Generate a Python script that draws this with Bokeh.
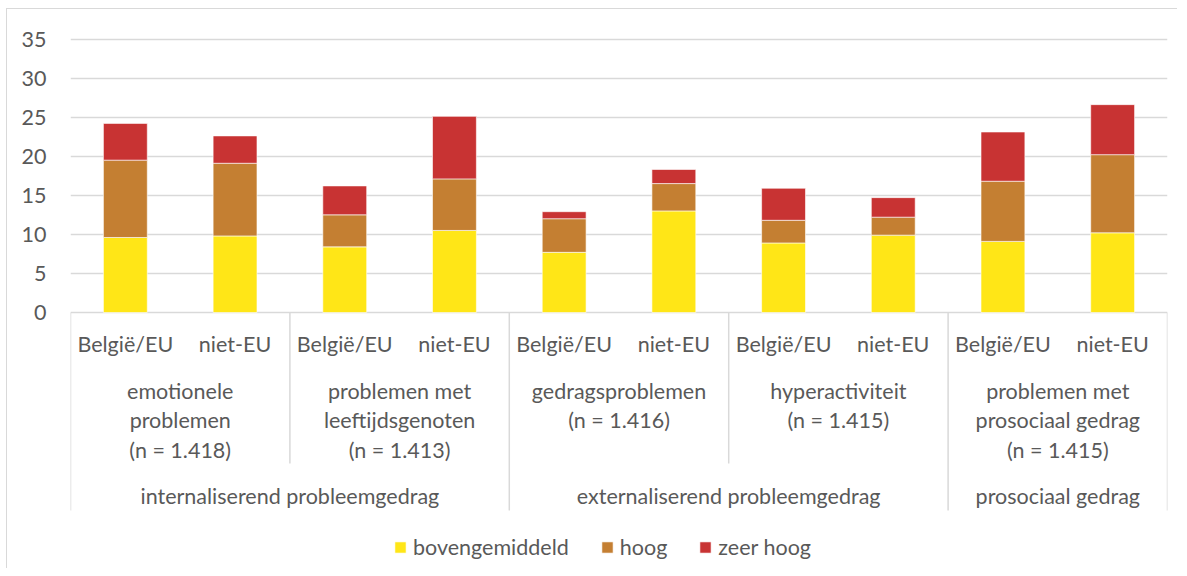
from bokeh.plotting import figure
from bokeh.models import Range1d, FixedTicker, Legend, LegendItem, ColumnDataSource
from bokeh.core.properties import value
from bokeh.embed import file_html
from bokeh.resources import INLINE

# ---------------- data ----------------
origins = ["België/EU", "niet-EU"]
scales = [
    ["emotionele", "problemen", "(n = 1.418)"],
    ["problemen met", "leeftijdsgenoten", "(n = 1.413)"],
    ["gedragsproblemen", "(n = 1.416)"],
    ["hyperactiviteit", "(n = 1.415)"],
    ["problemen met", "prosociaal gedrag", "(n = 1.415)"],
]
domains = ["internaliserend probleemgedrag", "externaliserend probleemgedrag", "prosociaal gedrag"]
scales_per_domain = [2, 2, 1]
series = ["bovengemiddeld", "hoog", "zeer hoog"]
bovengemiddeld = [9.6, 9.8, 8.4, 10.5, 7.7, 13.0, 8.9, 9.9, 9.1, 10.2]
hoog = [9.9, 9.3, 4.1, 6.6, 4.3, 3.5, 2.9, 2.3, 7.7, 10.0]
zeer_hoog = [4.7, 3.5, 3.7, 8.0, 0.9, 1.8, 4.1, 2.5, 6.3, 6.4]
y_ticks = [0, 5, 10, 15, 20, 25, 30, 35]

# ---------------- styling / layout constants ----------------
colors = ["#FFE617", "#C47F32", "#C83333"]
FONT = value("Lato")
FS = "21.5px"
TXT = "#595959"
GRID = "#d9d9d9"
W, H = 1171, 560
TOP = 9                              # page y of figure content top
Y0_PX, PX_PER_UNIT = 312.0 - TOP, 7.814


def data_y(page_y):
    return (Y0_PX - (page_y - TOP)) / PX_PER_UNIT


n_cats = len(bovengemiddeld)
x_centers = [i + 0.5 for i in range(n_cats)]

src = ColumnDataSource(dict(x=x_centers, bovengemiddeld=bovengemiddeld, hoog=hoog, zeer_hoog=zeer_hoog))

p = figure(width=W, height=H, output_backend="svg", toolbar_location=None,
           x_range=Range1d(0, n_cats), y_range=Range1d(data_y(TOP + H), data_y(TOP)),
           x_axis_location=None,
           min_border_left=63, min_border_right=11, min_border_top=0, min_border_bottom=0)
p.styles = {"border-left": "1px solid #d9d9d9", "border-top": "1px solid #d9d9d9",
            "margin-left": "6px", "margin-top": "8px"}
p.outline_line_color = None
p.background_fill_color = "white"
p.border_fill_color = "white"
p.xgrid.visible = False
p.ygrid.ticker = FixedTicker(ticks=y_ticks)
p.ygrid.grid_line_color = GRID
p.ygrid.grid_line_width = 1.5

ax = p.yaxis[0]
ax.ticker = FixedTicker(ticks=y_ticks)
ax.axis_line_color = None
ax.major_tick_line_color = None
ax.minor_tick_line_color = None
ax.major_label_text_font = "Lato"
ax.major_label_text_font_size = FS
ax.major_label_text_color = TXT
ax.major_label_standoff = 18

rs = p.vbar_stack(["bovengemiddeld", "hoog", "zeer_hoog"], x="x", width=0.4, source=src,
                  color=colors, line_color="white", line_width=0.6)

# separators below the category axis
sep_x, sep_y1 = [], []
inner_bottom, outer_bottom = data_y(463), data_y(510)
pos = 0
domain_edges = [0]
for cnt in scales_per_domain:
    pos += cnt * len(origins)
    domain_edges.append(pos)
for j in range(len(scales) + 1):
    xb = j * len(origins)
    sep_x.append(xb)
    sep_y1.append(outer_bottom if xb in domain_edges else inner_bottom)
p.segment(x0=sep_x, y0=[0] * len(sep_x), x1=sep_x, y1=sep_y1, line_color=GRID, line_width=1.5)

# level 1 labels
lx, ly, lt = [], [], []
for i in range(n_cats):
    lx.append(x_centers[i])
    ly.append(data_y(343))
    lt.append(origins[i % len(origins)])
# level 2 labels
line_px = [390, 419.5, 449]
for j, lines in enumerate(scales):
    xc = j * len(origins) + len(origins) / 2
    for k, ln in enumerate(lines):
        lx.append(xc)
        ly.append(data_y(line_px[k]))
        lt.append(ln)
# level 3 labels
start = 0
for d, cnt in zip(domains, scales_per_domain):
    span = cnt * len(origins)
    lx.append(start + span / 2)
    ly.append(data_y(495))
    lt.append(d)
    start += span

p.text(x=lx, y=ly, text=lt, text_font=FONT, text_font_size=value(FS), text_color=TXT,
       text_align="center", text_baseline="middle")

legend = Legend(items=[LegendItem(label=s, renderers=[r]) for s, r in zip(series, rs)],
                orientation="horizontal", location=(323, 9),
                glyph_width=14, glyph_height=14, label_standoff=6, spacing=31,
                padding=0, margin=0, border_line_color=None, background_fill_alpha=0,
                label_text_font="Lato", label_text_font_size=FS, label_text_color=TXT)
p.add_layout(legend)

open("out.html", "w").write(file_html(p, INLINE))
